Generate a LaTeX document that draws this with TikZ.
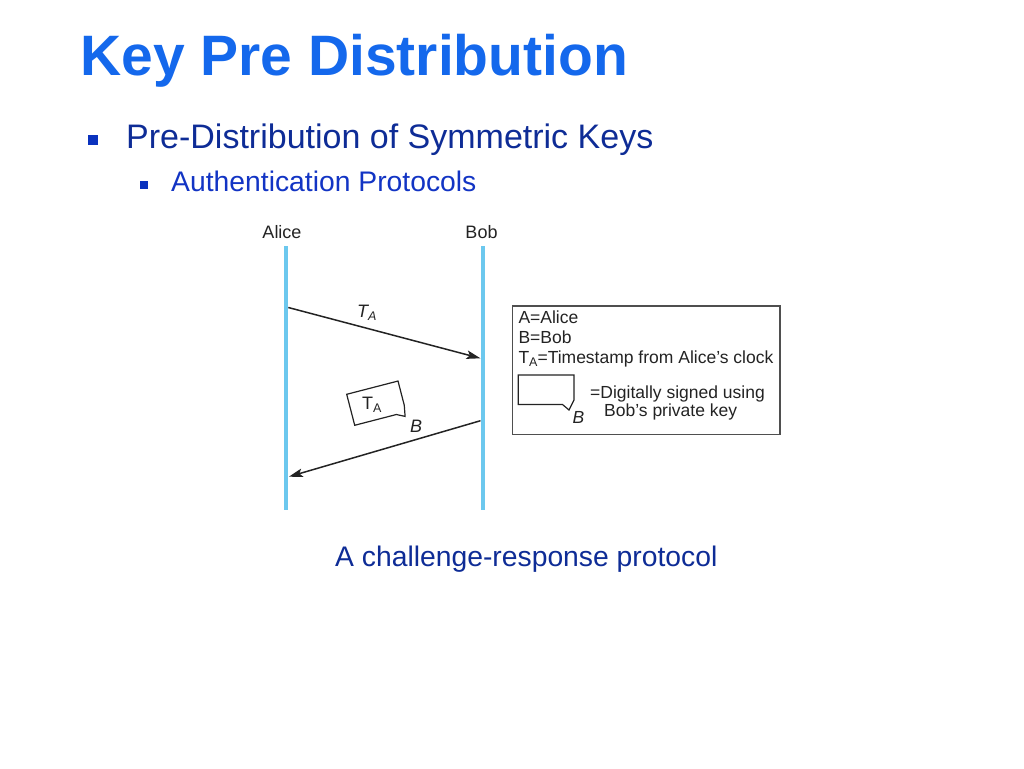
\documentclass[tikz,border=0pt]{standalone}
\usepackage{fontspec}
\setmainfont{Liberation Sans}
\usetikzlibrary{arrows.meta}
\definecolor{titleblue}{RGB}{20,104,236}
\definecolor{navy}{RGB}{14,44,150}
\definecolor{subblue}{RGB}{18,52,196}
\definecolor{bulletblue}{RGB}{10,50,190}
\definecolor{lifeline}{RGB}{108,200,238}
\definecolor{ink}{RGB}{35,35,35}
\newcommand{\sbA}{\raisebox{-0.35ex}{\fontsize{12.5}{13}\selectfont A}}
\newcommand{\isbA}{\raisebox{-0.35ex}{\fontsize{12.5}{13}\selectfont\itshape A}}
\tikzset{
  titletext/.style={anchor=base west, inner sep=0pt, text=titleblue, font=\fontsize{57}{60}\selectfont\bfseries},
  lvlone/.style={anchor=base west, inner sep=0pt, text=navy, font=\fontsize{34}{38}\selectfont},
  lvltwo/.style={anchor=base west, inner sep=0pt, text=subblue, font=\fontsize{28.3}{32}\selectfont},
  caption/.style={anchor=base west, inner sep=0pt, text=navy, font=\fontsize{28.3}{32}\selectfont},
  bulletsq/.style={fill=bulletblue, draw=none},
  diag/.style={inner sep=0pt, text=ink, font=\fontsize{18}{20}\selectfont},
  legtext/.style={inner sep=0pt, text=ink, font=\fontsize{17.5}{20}\selectfont},
  lifelinestyle/.style={draw=lifeline, line width=4pt},
  msg/.style={draw=ink, line width=1.5pt, -{Stealth[length=14pt,width=8.5pt,inset=3pt]}},
  boxline/.style={draw=ink!80, line width=1.6pt},
  bubble/.style={draw=ink, line width=1.2pt, line join=miter},
}
\begin{document}
\begin{tikzpicture}[x=1pt,y=-1pt]
\useasboundingbox (0,0) rectangle (1024,768);
% title and bullets
\node[titletext] (title) at (80,75) {Key Pre Distribution};
\path[bulletsq] (88,135) rectangle (98,145);
\node[lvlone] (b1) at (126,148) {Pre-Distribution of Symmetric Keys};
\path[bulletsq] (140,181) rectangle (147.5,188.5);
\node[lvltwo] (b2) at (171,191) {Authentication Protocols};
% lifelines
\node[diag, anchor=base] (alice) at (282,238) {Alice};
\node[diag, anchor=base] (bob) at (481.5,238) {Bob};
\coordinate (atop) at (286.3,246);
\coordinate (abot) at (286.3,510);
\coordinate (btop) at (482.5,246);
\coordinate (bbot) at (482.5,510);
\draw[lifelinestyle] (atop) -- (abot);
\draw[lifelinestyle] (btop) -- (bbot);
% messages
\coordinate (m1s) at (288.3,307.5);
\coordinate (m1e) at (480.5,358.3);
\draw[msg] (m1s) -- (m1e);
\node[diag, anchor=base west] (m1l) at (357,317) {\itshape T\isbA};
\coordinate (m2s) at (480.5,420.7);
\coordinate (m2e) at (288.8,476.7);
\draw[msg] (m2s) -- (m2e);
\node[diag, anchor=base west] (m2l) at (410,432) {\itshape B};
% signed bubble
\begin{scope}[shift={(346.7,394.3)}, rotate=14.5]
  \draw[bubble] (0,0) -- (53,0) -- (53,25) -- (51,36) -- (43,32) -- (0,32) -- cycle;
\end{scope}
\node[diag, anchor=base west] (bubtxt) at (362,409) {T\sbA};
% legend
\node[boxline, draw, inner sep=0pt, anchor=north west, minimum width=267.5pt, minimum height=128.5pt] (legend) at (511.7,305) {};
\node[legtext, anchor=base west] (lg1) at (518.3,323.5) {A=Alice};
\node[legtext, anchor=base west] (lg2) at (518.3,343.5) {B=Bob};
\node[legtext, anchor=base west] (lg3) at (518.3,363.5) {T\sbA=Timestamp from Alice’s clock};
\draw[bubble] (518.3,375) -- (574,375) -- (574,400) -- (569,410) -- (562.5,404.5) -- (518.3,404.5) -- cycle;
\node[legtext, anchor=base west] (lgB) at (572.5,423.5) {\itshape B};
\node[legtext, anchor=base west] (lg4) at (590,398.3) {=Digitally signed using};
\node[legtext, anchor=base west] (lg5) at (604,416.5) {Bob’s private key};
% caption
\node[caption] (cap) at (335,566) {A challenge-response protocol};
\end{tikzpicture}
\end{document}
